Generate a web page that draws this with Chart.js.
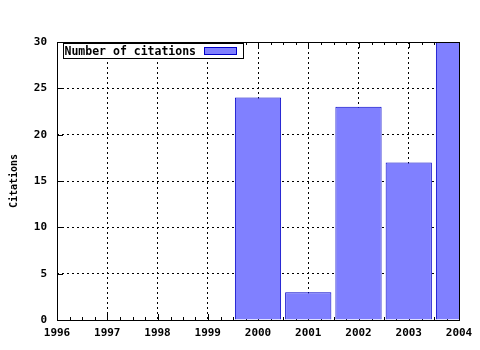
<!DOCTYPE html>
<html lang="en">
<head>
<meta charset="UTF-8" />
<title>Number of citations</title>
<script src="https://cdn.jsdelivr.net/npm/chart.js@4.4.1/dist/chart.umd.min.js"></script>
<style>
  html, body { margin: 0; padding: 0; background: #fff; }
  #wrap { position: relative; width: 480px; height: 350px; }
</style>
</head>
<body>
<div id="wrap"><canvas id="citations"></canvas></div>
<script>
  // values
  const years = ['1996', '1997', '1998', '1999', '2000', '2001', '2002', '2003', '2004'];
  const citations = [0, 0, 0, 0, 24, 3, 23, 17, 30];
  const yTicks = [0, 5, 10, 15, 20, 25, 30];

  const monoBold = { family: '"DejaVu Sans Mono", monospace', size: 11, weight: 'bold' };

  // dotted grid only inside the frame, not on its edges
  function innerGrid(ctx) {
    const n = ctx.scale.ticks.length;
    return (ctx.index === 0 || ctx.index === n - 1) ? 'rgba(0,0,0,0)' : '#000';
  }

  // gnuplot-ish frame, inward ticks (mirrored) and legend box
  const gnuFrame = {
    id: 'gnuFrame',
    beforeDatasetsDraw(chart) {
      const ctx = chart.ctx, a = chart.chartArea;
      const xs = chart.scales.x, ys = chart.scales.y;
      ctx.save();
      ctx.strokeStyle = '#000';
      ctx.lineWidth = 1;
      ctx.beginPath();
      for (let i = 0; i < xs.ticks.length; i++) {
        const px = Math.round(xs.getPixelForTick(i)) + 0.5;
        ctx.moveTo(px, a.bottom); ctx.lineTo(px, a.bottom - 6);
        ctx.moveTo(px, a.top); ctx.lineTo(px, a.top + 6);
        if (i < xs.ticks.length - 1) {
          const next = xs.getPixelForTick(i + 1);
          for (let k = 1; k < 4; k++) {
            const mx = Math.round(px + (next - px) * k / 4) + 0.5;
            ctx.moveTo(mx, a.bottom); ctx.lineTo(mx, a.bottom - 3);
            ctx.moveTo(mx, a.top); ctx.lineTo(mx, a.top + 3);
          }
        }
      }
      for (let i = 0; i < ys.ticks.length; i++) {
        const py = Math.round(ys.getPixelForTick(i)) + 0.5;
        ctx.moveTo(a.left, py); ctx.lineTo(a.left + 6, py);
        ctx.moveTo(a.right, py); ctx.lineTo(a.right - 6, py);
      }
      ctx.stroke();
      ctx.restore();
    },
    afterDatasetsDraw(chart) {
      const ctx = chart.ctx, a = chart.chartArea;
      const ds = chart.data.datasets[0];
      ctx.save();
      ctx.strokeStyle = '#000';
      ctx.lineWidth = 1;
      ctx.strokeRect(Math.round(a.left) + 0.5, Math.round(a.top) + 0.5,
        Math.round(a.right - a.left), Math.round(a.bottom - a.top));

      // legend inside the plot, top left
      const bx = Math.round(a.left) + 6.5, by = Math.round(a.top) + 1.5;
      const bw = 180, bh = 15;
      ctx.fillStyle = '#fff';
      ctx.fillRect(bx, by, bw, bh);
      ctx.strokeRect(bx, by, bw, bh);
      ctx.font = 'bold 11.5px "DejaVu Sans Mono", monospace';
      ctx.fillStyle = '#000';
      ctx.textBaseline = 'middle';
      ctx.fillText(ds.label, bx + 1, by + bh / 2 + 1);
      ctx.fillStyle = ds.backgroundColor;
      ctx.fillRect(bx + 141, by + 4, 32, 7);
      ctx.strokeStyle = ds.borderColor;
      ctx.strokeRect(bx + 141, by + 4, 32, 7);
      ctx.restore();
    }
  };

  new Chart(document.getElementById('citations'), {
    type: 'bar',
    data: {
      labels: years,
      datasets: [{
        label: 'Number of citations',
        data: citations,
        backgroundColor: '#8080ff',
        borderColor: '#0000c8',
        borderWidth: 1,
        borderSkipped: 'start',
        barPercentage: 0.92,
        categoryPercentage: 1,
        clip: 0
      }]
    },
    options: {
      responsive: true,
      maintainAspectRatio: false,
      animation: false,
      layout: { padding: { left: 0, right: 21, top: 42, bottom: 0 } },
      plugins: {
        legend: { display: false },
        tooltip: { enabled: false }
      },
      scales: {
        x: {
          offset: false,
          afterFit(s) { s.height = 30; },
          border: { display: false, dash: [2, 3] },
          grid: { color: innerGrid, drawTicks: false, lineWidth: 1, offset: false },
          ticks: { color: '#000', font: monoBold, padding: 7, maxRotation: 0 }
        },
        y: {
          min: yTicks[0],
          max: yTicks[yTicks.length - 1],
          afterFit(s) { s.width = 57; },
          afterBuildTicks(s) { s.ticks = yTicks.map(v => ({ value: v })); },
          border: { display: false, dash: [2, 3] },
          grid: { color: innerGrid, drawTicks: false, lineWidth: 1 },
          ticks: { color: '#000', font: monoBold, padding: 10 },
          title: {
            display: true,
            text: 'Citations',
            color: '#000',
            font: { family: '"DejaVu Sans Mono", monospace', size: 10, weight: 'bold' },
            padding: { top: 8, bottom: 0 }
          }
        }
      }
    },
    plugins: [gnuFrame]
  });
</script>
</body>
</html>
